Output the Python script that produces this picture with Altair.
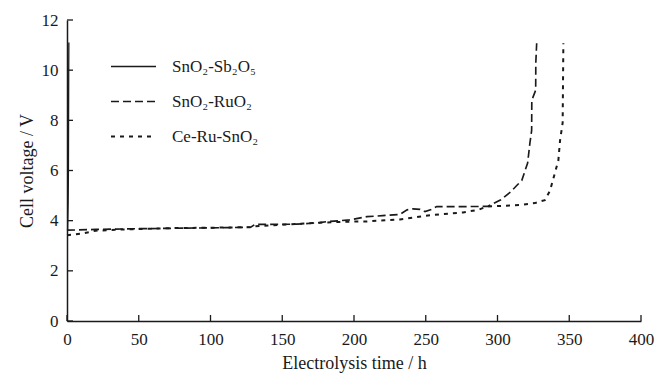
import altair as alt
import pandas as pd

# Electrolysis time (h) and cell voltage (V) for each electrode coating
series_names = ["SnO₂-Sb₂O₅", "SnO₂-RuO₂", "Ce-Ru-SnO₂"]

sb_time = [0.4, 0.8, 1.0, 1.2, 1.3]
sb_volt = [3.6, 4.7, 6.0, 10.0, 11.1]

ru_time = [0, 20, 50, 80, 110, 128, 131, 160, 176, 181, 197, 209, 220, 232,
           237, 241, 246, 249.5, 254, 257.6, 275, 293, 302, 309, 313.4, 316.9,
           321, 322.6, 323.8, 323.9, 326.6, 326.7, 327.3]
ru_volt = [3.62, 3.65, 3.68, 3.70, 3.72, 3.74, 3.85, 3.86, 3.92, 3.96, 4.03,
           4.16, 4.20, 4.25, 4.43, 4.47, 4.45, 4.36, 4.45, 4.56, 4.56, 4.57,
           4.82, 5.14, 5.40, 5.60, 6.30, 7.10, 7.60, 8.80, 9.20, 10.3, 11.07]

ce_time = [0, 10, 20, 40, 70, 100, 128, 131, 176, 197, 209, 232, 255, 276,
           286.5, 292.5, 316.9, 326, 333, 336.6, 340, 342.4, 343.6, 345.4,
           345.9]
ce_volt = [3.42, 3.48, 3.60, 3.65, 3.70, 3.72, 3.74, 3.78, 3.92, 3.96, 3.97,
           4.05, 4.23, 4.33, 4.43, 4.56, 4.63, 4.70, 4.82, 5.20, 5.90, 6.40,
           7.20, 7.90, 11.07]

x_ticks = [0, 50, 100, 150, 200, 250, 300, 350, 400]
y_ticks = [0, 2, 4, 6, 8, 10, 12]

rows = []
for name, ts, vs in zip(series_names,
                        [sb_time, ru_time, ce_time],
                        [sb_volt, ru_volt, ce_volt]):
    for i, (t, v) in enumerate(zip(ts, vs)):
        rows.append({"series": name, "time": t, "volt": v, "order": i})
df = pd.DataFrame(rows)

FONT = "Liberation Serif"
W, H = 574, 301

x_scale = alt.Scale(domain=[0, 400], nice=False)
y_scale = alt.Scale(domain=[0, 12], nice=False)

lines = alt.Chart(df).mark_line(color="#1a1a1a").encode(
    x=alt.X("time:Q", scale=x_scale,
            axis=alt.Axis(values=x_ticks, title="Electrolysis time / h",
                          ticks=False, tickSize=0, grid=False,
                          labelFlush=False,
                          labelPadding=10, titlePadding=7)),
    y=alt.Y("volt:Q", scale=y_scale,
            axis=alt.Axis(values=y_ticks, title="Cell voltage / V",
                          ticks=False, tickSize=0, grid=False,
                          labelFlush=False,
                          labelPadding=9, titlePadding=5)),
    order="order:Q",
    strokeDash=alt.StrokeDash(
        "series:N",
        scale=alt.Scale(domain=series_names,
                        range=[[1, 0], [8, 4], [4, 5]]),
        legend=alt.Legend(title=None, orient="none", legendX=43, legendY=23,
                          symbolType="stroke", symbolSize=2025,
                          symbolStrokeColor="#1a1a1a", labelOffset=15,
                          rowPadding=3, padding=0, labelFontSize=17,
                          labelFont=FONT, labelColor="#1a1a1a"),
    ),
    strokeWidth=alt.StrokeWidth(
        "series:N",
        scale=alt.Scale(domain=series_names, range=[1.3, 2.0, 2.0]),
        legend=None,
    ),
)

# Tick marks drawn pointing into the plot area
xt = alt.Chart(pd.DataFrame({"t": x_ticks})).mark_rule(
    color="#1a1a1a", strokeWidth=1.3
).encode(x=alt.X("t:Q", scale=x_scale), y=alt.value(H), y2=alt.value(H - 6))

yt = alt.Chart(pd.DataFrame({"v": y_ticks})).mark_rule(
    color="#1a1a1a", strokeWidth=1.3
).encode(y=alt.Y("v:Q", scale=y_scale), x=alt.value(0), x2=alt.value(6))

chart = alt.layer(lines, xt, yt).properties(
    width=W, height=H,
    background="white",
    autosize=alt.AutoSizeParams(type="none"),
    padding={"left": 67, "top": 20, "right": 15, "bottom": 52},
).configure_view(stroke=None).configure_axis(
    domainColor="#1a1a1a", domainWidth=1.5,
    labelFont=FONT, labelFontSize=17, labelColor="#1a1a1a",
    titleFont=FONT, titleFontSize=18, titleFontWeight="normal",
    titleColor="#1a1a1a",
)

chart.save("out.html", embed_options={"renderer": "svg", "actions": False})
